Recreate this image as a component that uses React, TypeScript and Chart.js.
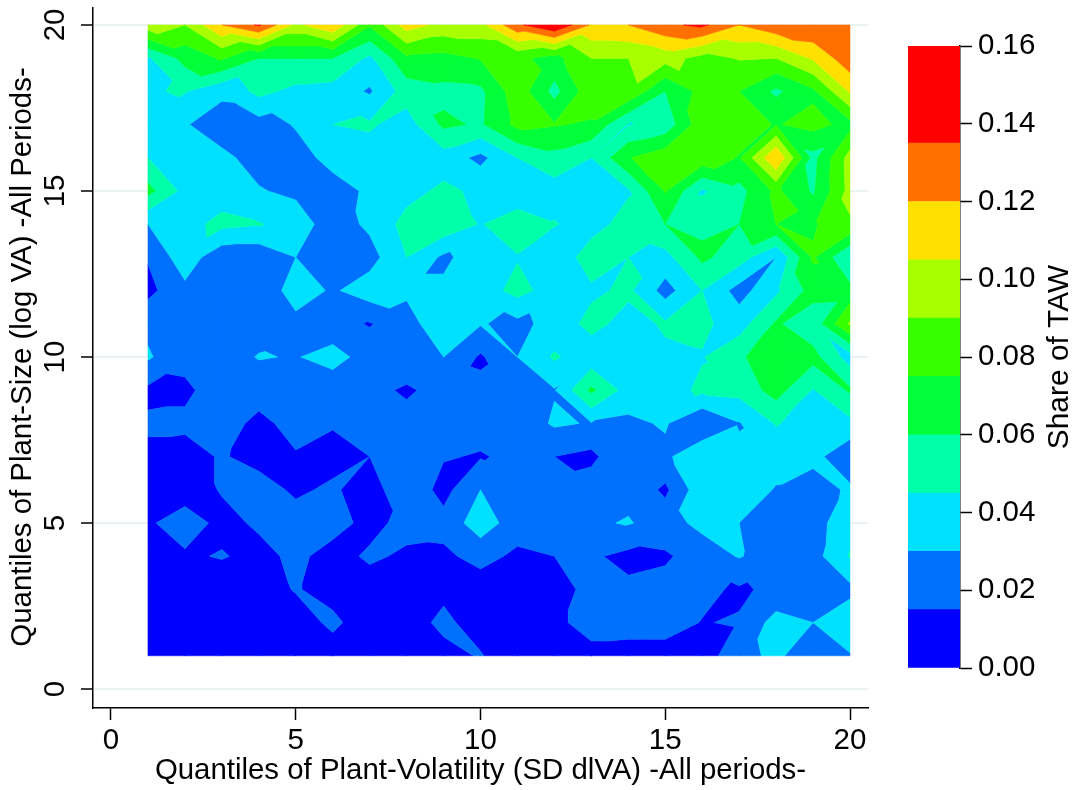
import React, { useEffect, useRef } from "react";
import { Chart, registerables } from "chart.js";

Chart.register(...registerables);

// Share of TAW x 1000, one list per size quantile, columns are volatility quantiles 1..20
const size20 = [99,90,120,137,101,118,77,112,100,100,132,150,118,120,132,138,120,131,134,134];
const size19 = [43,65,77,60,60,60,42,72,70,76,78,70,90,90,96,85,91,90,107,130];
const size18 = [44,46,33,49,41,39,28,52,56,57,84,55,85,88,60,80,75,57,72,107];
const size17 = [40,31,23,24,31,45,47,38,63,58,79,76,73,44,50,85,83,74,80,70];
const size16 = [45,36,33,25,25,34,38,40,38,26,45,55,45,74,85,85,74,120,55,96];
const size15 = [65,40,38,31,27,25,32,40,48,42,34,38,38,43,76,43,55,78,58,95];
const size14 = [30,40,49,46,38,22,33,50,56,44,54,46,38,52,60,57,60,75,73,88];
const size13 = [16,39,19,19,30,22,24,45,27,38,44,32,54,45,40,63,52,30,77,44];
const size12 = [11,26,24,17,38,28,38,33,33,37,50,38,42,48,24,45,24,42,66,65];
const size11 = [26,18,20,22,25,20,14,23,42,31,26,35,50,39,47,48,38,62,50,92];
const size10 = [32,18,22,31,29,36,23,24,30,13,30,47,35,40,42,44,57,73,65,38];
const size09 = [12,13,20,20,20,20,19,13,20,18,22,29,63,38,38,48,50,66,44,62];
const size08 = [17,17,20,12,19,16,20,20,20,20,20,32,29,27,31.5,15,29,46,38,41];
const size07 = [12,11,16,11,14,11,15,20,16,14,18,15,11,30,26.5,44,33,36,35,18];
const size06 = [8,8,16,20,13,17,8,26,10,30,22,20,24,26,12,40,38,29,21,33];
const size05 = [13,22,11,17,20,20,11,19,20,38,22,20,28,31,24,34,30,24,23,41];
const size04 = [8,13,16,11,18,10,17,13,12,20,12,15,17,11,13,22,31,22,24,46];
const size03 = [8,7,6,8,16,10,9,8,12,7,6,8,20,18,20,18,13,18,22,26];
const size02 = [7,6,6,6,8,18,7,9,18,9,6,12,20,20,20,14.5,16,36,30,40];
const size01 = [5,5,5,4,5,8,5,5,11,16,5,5,11,10,10,8,24,34,17,29];

const rows = [size01,size02,size03,size04,size05,size06,size07,size08,size09,size10,
  size11,size12,size13,size14,size15,size16,size17,size18,size19,size20];

const bandEdges = [0,0.015,0.03,0.045,0.06,0.075,0.09,0.105,0.12,0.135,0.16];
const bandColors = ["#0000ff","#0070ff","#00e0ff","#00ffa8","#00ff38","#38ff00","#a8ff00","#ffe000","#ff7000","#ff0000"];
const axisTicks = [0,5,10,15,20];

const xTitle = "Quantiles of Plant-Volatility (SD dlVA) -All periods-";
const yTitle = "Quantiles of Plant-Size (log VA) -All Periods-";
const zTitle = "Share of TAW";

const FONT = "'Liberation Sans', Arial, sans-serif";
const TICK_SIZE = 29.5;
const TITLE_SIZE = 29.4;
const Y_TITLE_SIZE = 29.4;
const Z_TITLE_SIZE = 29.9;

type P = { x: number; y: number; v: number };

function clip(poly: P[], level: number, above: boolean): P[] {
  const out: P[] = [];
  const inside = (p: P) => (above ? p.v >= level : p.v <= level);
  for (let i = 0; i < poly.length; i++) {
    const a = poly[i];
    const b = poly[(i + 1) % poly.length];
    const ia = inside(a);
    const ib = inside(b);
    if (ia) out.push(a);
    if (ia !== ib) {
      const t = (level - a.v) / (b.v - a.v);
      out.push({ x: a.x + t * (b.x - a.x), y: a.y + t * (b.y - a.y), v: level });
    }
  }
  return out;
}

const contourPlugin = {
  id: "contourBands",
  beforeDatasetsDraw(chart: any) {
    const { ctx, scales } = chart;
    const pts: P[] = chart.data.datasets[0].data;
    const at = (col: number, row: number) => pts[row * 20 + col];
    const tris: P[][] = [];
    for (let r = 0; r < 19; r++) {
      for (let c = 0; c < 19; c++) {
        const a = at(c, r), b = at(c + 1, r), d = at(c, r + 1), e = at(c + 1, r + 1);
        if (Math.abs(a.v - e.v) <= Math.abs(b.v - d.v)) {
          tris.push([a, b, e], [a, e, d]);
        } else {
          tris.push([a, b, d], [b, e, d]);
        }
      }
    }
    ctx.save();
    bandColors.forEach((color, k) => {
      const lo = k === 0 ? -Infinity : bandEdges[k];
      const hi = k === bandColors.length - 1 ? Infinity : bandEdges[k + 1];
      ctx.beginPath();
      for (const tri of tris) {
        let poly = tri;
        if (lo > -Infinity) poly = clip(poly, lo, true);
        if (poly.length && hi < Infinity) poly = clip(poly, hi, false);
        if (poly.length < 3) continue;
        poly.forEach((p, i) => {
          const px = scales.x.getPixelForValue(p.x);
          const py = scales.y.getPixelForValue(p.y);
          if (i === 0) ctx.moveTo(px, py);
          else ctx.lineTo(px, py);
        });
        ctx.closePath();
      }
      ctx.fillStyle = color;
      ctx.fill();
      ctx.strokeStyle = color;
      ctx.lineWidth = 0.5;
      ctx.stroke();
    });
    ctx.restore();
    ctx.save();
    ctx.translate(23, 357);
    ctx.rotate(-Math.PI / 2);
    ctx.font = `${Y_TITLE_SIZE}px ${FONT}`;
    ctx.fillStyle = "#000";
    ctx.textAlign = "center";
    ctx.textBaseline = "middle";
    ctx.fillText(yTitle, 0, 0);
    ctx.restore();
  },
};

const zTitlePlugin = {
  id: "zTitle",
  afterDraw(chart: any) {
    const { ctx } = chart;
    ctx.save();
    ctx.translate(180, 357);
    ctx.rotate(-Math.PI / 2);
    ctx.font = `${Z_TITLE_SIZE}px ${FONT}`;
    ctx.fillStyle = "#000";
    ctx.textAlign = "center";
    ctx.textBaseline = "middle";
    ctx.fillText(zTitle, 0, 0);
    ctx.restore();
  },
};

const zeroPadding = (s: any) => {
  s.paddingLeft = 0;
  s.paddingRight = 0;
  s.paddingTop = 0;
  s.paddingBottom = 0;
};

export default function App() {
  const mainRef = useRef<HTMLCanvasElement>(null);
  const barRef = useRef<HTMLCanvasElement>(null);

  useEffect(() => {
    const points: P[] = [];
    rows.forEach((row, r) => row.forEach((v, c) => points.push({ x: c + 1, y: r + 1, v: v / 1000 })));

    const main = new Chart(mainRef.current!, {
      type: "scatter",
      data: { datasets: [{ data: points as any, pointRadius: 0, pointHoverRadius: 0, showLine: false }] },
      options: {
        responsive: false,
        animation: false,
        layout: { padding: { top: 8, right: 208, left: 0, bottom: 0 } },
        plugins: { legend: { display: false }, tooltip: { enabled: false } },
        scales: {
          x: {
            type: "linear",
            min: -0.487,
            max: 20.487,
            afterBuildTicks: (s: any) => { s.ticks = axisTicks.map((value) => ({ value })); },
            afterFit: (s: any) => { s.height = 82; zeroPadding(s); },
            ticks: { color: "#000", padding: 3, maxRotation: 0, font: { family: FONT, size: TICK_SIZE } },
            grid: { drawOnChartArea: false, tickLength: 12, tickColor: "#000", tickWidth: 1.5 },
            border: { color: "#000", width: 1.5 },
            title: { display: true, text: xTitle, color: "#000", font: { family: FONT, size: TITLE_SIZE }, padding: { top: 0, bottom: 1 } },
          },
          y: {
            type: "linear",
            min: -0.572,
            max: 20.51,
            afterBuildTicks: (s: any) => { s.ticks = axisTicks.map((value) => ({ value })); },
            afterFit: (s: any) => { s.width = 93; zeroPadding(s); },
            ticks: { color: "#000", padding: 9, minRotation: 90, maxRotation: 90, crossAlign: "center", font: { family: FONT, size: TICK_SIZE } },
            grid: { color: "#eaf2f3", lineWidth: 2, tickLength: 12, tickColor: "#000", tickWidth: 1.5 },
            border: { color: "#000", width: 1.5 },
          },
        },
      },
      plugins: [contourPlugin],
    } as any);

    const bar = new Chart(barRef.current!, {
      type: "bar",
      data: {
        labels: [zTitle],
        datasets: bandColors.map((color, k) => ({
          data: [[bandEdges[k], bandEdges[k + 1]]] as any,
          backgroundColor: color,
          borderWidth: 0,
          grouped: false,
          categoryPercentage: 1,
          barPercentage: 1,
        })),
      },
      options: {
        responsive: false,
        animation: false,
        layout: { padding: { top: 46, bottom: 122, left: 28, right: 0 } },
        plugins: { legend: { display: false }, tooltip: { enabled: false } },
        scales: {
          x: { display: false },
          y: {
            position: "right",
            min: 0,
            max: 0.16,
            ticks: {
              stepSize: 0.02,
              color: "#000",
              padding: 6,
              font: { family: FONT, size: TICK_SIZE },
              callback: (v: any) => Number(v).toFixed(2),
            },
            afterFit: (s: any) => { s.width = 116; zeroPadding(s); },
            grid: { drawOnChartArea: false, tickLength: 12, tickColor: "#000", tickWidth: 1.5 },
            border: { color: "#000", width: 1.5 },
          },
        },
      },
      plugins: [zTitlePlugin],
    } as any);

    return () => {
      main.destroy();
      bar.destroy();
    };
  }, []);

  return (
    <div style={{ position: "absolute", left: 0, top: 0, width: 1076, height: 790, background: "#fff" }}>
      <canvas ref={mainRef} width={1076} height={790} style={{ position: "absolute", left: 0, top: 0 }} />
      <canvas ref={barRef} width={196} height={790} style={{ position: "absolute", left: 880, top: 0 }} />
    </div>
  );
}
